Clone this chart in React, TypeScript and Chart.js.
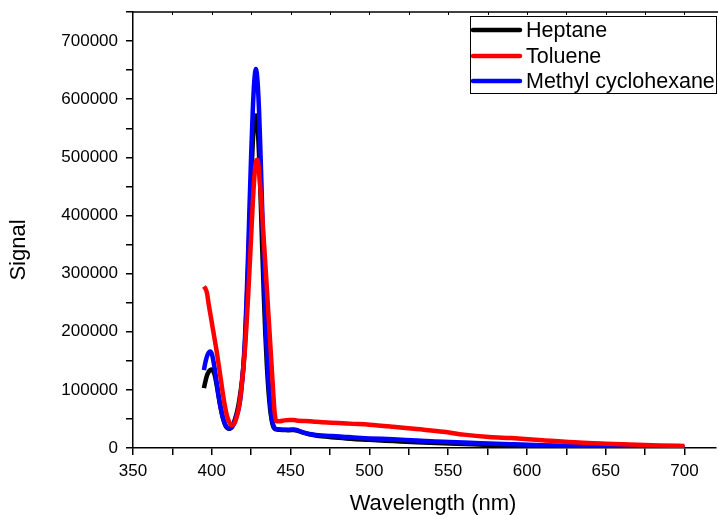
import React, { useEffect, useRef } from "react";
import { Chart, registerables } from "chart.js";

Chart.register(...registerables);

const wavelengths = [
  395, 396, 397, 398, 399, 400, 401, 402, 403, 404, 405, 406, 407, 408, 409, 410,
  411, 412, 413, 414, 415, 416, 417, 418, 419, 420, 421, 422, 423, 424, 425, 426,
  427, 428, 429, 430, 431, 432, 433, 434, 435, 436, 437, 438, 439, 440, 441,
  443, 446, 449, 452, 455, 458, 462, 466, 470, 476, 483, 490, 500, 515, 530, 547,
  560, 576, 590, 610, 633, 650, 670, 685, 700,
];

const heptane = [
  103000, 115000, 125000, 131000, 134000, 135000, 132000, 124000, 110000, 94000, 78000, 64000, 52000, 43000, 37000, 34000,
  33000, 34000, 37000, 43000, 52000, 62000, 75000, 92000, 112000, 138000, 175000, 235000, 305000, 385000, 460000, 525000,
  562000, 572000, 555000, 505000, 430000, 345000, 265000, 195000, 140000, 98000, 68000, 48000, 37000, 33000, 32000,
  31500, 31000, 30500, 31000, 29000, 26500, 23500, 21500, 20000, 18500, 17000, 15500, 14000, 12000, 10000, 8000,
  6800, 5300, 4300, 3100, 2200, 1700, 1200, 900, 700,
];

const toluene = [
  278000, 274000, 266000, 248000, 232000, 216000, 200000, 184000, 168000, 150000, 132000, 113000, 94000, 77000, 63000, 52000,
  45000, 40500, 39000, 41000, 46000, 55000, 67000, 85000, 108000, 135000, 168000, 210000, 258000, 310000, 365000, 420000,
  465000, 493000, 496000, 475000, 440000, 400000, 358000, 316000, 272000, 228000, 184000, 140000, 95000, 58000, 46000,
  46000, 47500, 48000, 48000, 47000, 46500, 46000, 45000, 44500, 43500, 42500, 41500, 40000, 36500, 32500, 28000,
  23000, 19000, 17000, 13500, 9500, 7500, 5500, 4500, 3400,
];

const methylCyclohexane = [
  134000, 148000, 158000, 164000, 166000, 162000, 150000, 134000, 115000, 96000, 79000, 65000, 53000, 44000, 38000, 35000,
  34000, 34500, 37000, 42000, 50000, 58000, 67000, 82000, 106000, 140000, 185000, 250000, 330000, 420000, 505000, 580000,
  632000, 652000, 632000, 580000, 500000, 410000, 315000, 225000, 165000, 115000, 78000, 52000, 40000, 34000, 32500,
  32000, 31500, 31500, 32000, 30000, 27000, 24000, 22500, 21500, 20500, 19500, 18000, 16500, 15000, 12800, 10800,
  9300, 7800, 6500, 4800, 3300, 2500, 1800, 1300, 1000,
];

const seriesNames = ["Heptane", "Toluene", "Methyl cyclohexane"];
const seriesColors = ["#000000", "#ff0000", "#0000ff"];
const xTitle = "Wavelength (nm)";
const yTitle = "Signal";
const xMin = 350;
const xMax = 720;
const xMajorLast = 700;
const xMinorStep = 25;
const xMajorStep = 50;
const yMax = 750000;
const yMinorStep = 50000;
const yMajorStep = 100000;

const FONT = "'Liberation Sans', Arial, sans-serif";

function toPoints(ys: number[]) {
  return wavelengths.map((x, i) => ({ x, y: ys[i] }));
}

const decorPlugin = {
  id: "decor",
  afterDraw(chart: any) {
    const ctx = chart.ctx;
    const area = chart.chartArea;
    const xs = chart.scales.x;
    ctx.save();
    ctx.strokeStyle = "#000";
    ctx.lineWidth = 1.5;
    ctx.beginPath();
    ctx.moveTo(area.left, area.top);
    ctx.lineTo(area.right + 3, area.top);
    ctx.stroke();
    ctx.lineWidth = 1;
    for (let v = xMin + xMinorStep; v <= xMajorLast; v += xMinorStep) {
      const px = Math.round(xs.getPixelForValue(v)) + 0.5;
      ctx.beginPath();
      ctx.moveTo(px, area.top);
      ctx.lineTo(px, area.top + 3);
      ctx.stroke();
    }
    ctx.fillStyle = "#000";
    ctx.font = `22px ${FONT}`;
    ctx.textAlign = "center";
    ctx.textBaseline = "middle";
    ctx.fillText(xTitle, 433, 504);
    ctx.save();
    ctx.translate(19, 250);
    ctx.rotate(-Math.PI / 2);
    ctx.fillText(yTitle, 0, 0);
    ctx.restore();
    ctx.fillStyle = "#fff";
    ctx.fillRect(470, 16, 247, 78);
    ctx.strokeStyle = "#000";
    ctx.lineWidth = 1;
    ctx.strokeRect(470.5, 16.5, 246, 77);
    const rows = [30, 56, 81];
    seriesNames.forEach((name, i) => {
      ctx.strokeStyle = seriesColors[i];
      ctx.lineWidth = 4.5;
      ctx.lineCap = "round";
      ctx.beginPath();
      ctx.moveTo(473, rows[i]);
      ctx.lineTo(520, rows[i]);
      ctx.stroke();
      ctx.fillStyle = "#000";
      ctx.textAlign = "left";
      ctx.textBaseline = "middle";
      ctx.font = `21.5px ${FONT}`;
      ctx.fillText(name, 526, rows[i] + 1);
    });
    ctx.restore();
  },
};

export default function App() {
  const canvasRef = useRef<HTMLCanvasElement | null>(null);

  useEffect(() => {
    document.body.style.margin = "0";
    const canvas = canvasRef.current;
    if (!canvas) return;
    const datasetsRaw = [heptane, toluene, methylCyclohexane];
    const orders = [3, 1, 2];
    const chart = new Chart(canvas, {
      type: "line",
      data: {
        datasets: datasetsRaw.map((ys, i) => ({
          label: seriesNames[i],
          data: toPoints(ys),
          borderColor: seriesColors[i],
          backgroundColor: seriesColors[i],
          borderWidth: 4.5,
          pointRadius: 0,
          fill: false,
          cubicInterpolationMode: "monotone" as const,
          order: orders[i],
        })),
      },
      options: {
        animation: false,
        responsive: false,
        maintainAspectRatio: false,
        layout: { padding: { top: 12, right: 2, left: 0, bottom: 0 } },
        plugins: {
          legend: { display: false },
          tooltip: { enabled: false },
          title: { display: false },
        },
        scales: {
          x: {
            type: "linear",
            min: xMin,
            max: xMax,
            afterFit: (scale: any) => {
              scale.height = 67;
            },
            afterBuildTicks: (scale: any) => {
              const t: any[] = [];
              for (let v = xMin; v <= xMajorLast; v += xMinorStep) t.push({ value: v });
              scale.ticks = t;
            },
            ticks: {
              autoSkip: false,
              maxRotation: 0,
              padding: 6,
              color: "#000",
              font: { family: FONT, size: 17 },
              callback: (v: any) => (Number(v) % xMajorStep === 0 ? String(v) : ""),
            },
            grid: {
              drawOnChartArea: false,
              drawTicks: true,
              tickLength: 7,
              color: "#000",
              lineWidth: 1.5,
            },
            border: { display: true, color: "#000", width: 1.5 },
          },
          y: {
            type: "linear",
            min: 0,
            max: yMax,
            afterFit: (scale: any) => {
              scale.width = 133;
              scale.paddingTop = 0;
              scale.paddingBottom = 0;
            },
            ticks: {
              stepSize: yMinorStep,
              autoSkip: false,
              padding: 8,
              color: "#000",
              font: { family: FONT, size: 17 },
              callback: (v: any) => (Number(v) % yMajorStep === 0 ? String(v) : ""),
            },
            grid: {
              drawOnChartArea: false,
              drawTicks: true,
              tickLength: 7,
              color: "#000",
              lineWidth: 1.5,
            },
            border: { display: true, color: "#000", width: 1.5 },
          },
        },
      },
      plugins: [decorPlugin],
    });
    return () => chart.destroy();
  }, []);

  return (
    <div style={{ width: 718, height: 515, position: "relative", background: "#fff" }}>
      <canvas ref={canvasRef} width={718} height={515} />
    </div>
  );
}
